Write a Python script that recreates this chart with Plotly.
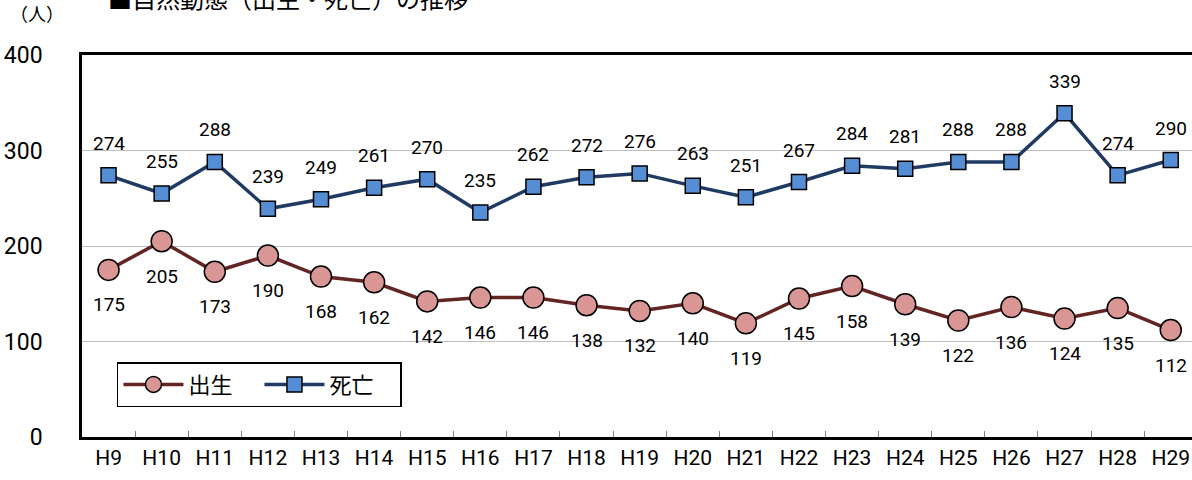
import plotly.graph_objects as go

categories = ["H9","H10","H11","H12","H13","H14","H15","H16","H17","H18","H19","H20",
              "H21","H22","H23","H24","H25","H26","H27","H28","H29"]
births = [175,205,173,190,168,162,142,146,146,138,132,140,119,145,158,139,122,136,124,135,112]
deaths = [274,255,288,239,249,261,270,235,262,272,276,263,251,267,284,281,288,288,339,274,290]
y_ticks = [0,100,200,300,400]

FONT = "Roboto, Liberation Sans, sans-serif"
JP = "Noto Sans CJK JP, sans-serif"

fig = go.Figure()
fig.add_trace(go.Scatter(
    x=categories, y=births, name="出生", mode="lines+markers",
    line=dict(color="#632523", width=3.5),
    marker=dict(symbol="circle", size=21, color="#D99694", line=dict(color="#000000", width=1.5)),
))
fig.add_trace(go.Scatter(
    x=categories, y=deaths, name="死亡", mode="lines+markers",
    line=dict(color="#1F3B63", width=3.5),
    marker=dict(symbol="square", size=15, color="#558ED5", line=dict(color="#000000", width=1.5)),
))

annotations = []
for c, v in zip(categories, births):
    annotations.append(dict(x=c, y=v, xref="x", yref="y", text=str(v), showarrow=False,
                            yshift=-35, font=dict(family=FONT, size=19, color="#000000")))
for c, v in zip(categories, deaths):
    annotations.append(dict(x=c, y=v, xref="x", yref="y", text=str(v), showarrow=False,
                            yshift=32, font=dict(family=FONT, size=19, color="#000000")))
annotations.append(dict(text="（人）", xref="paper", yref="paper", x=-0.067, y=1.07,
                        xanchor="left", yanchor="bottom", showarrow=False,
                        font=dict(family=JP, size=18, color="#000000")))
annotations.append(dict(text="■自然動態（出生・死亡）の推移", xref="paper", yref="paper",
                        x=0.022, y=1.15, xanchor="left", yanchor="middle", showarrow=False,
                        font=dict(family=JP, size=24, color="#000000")))

fig.update_layout(
    width=1192, height=480,
    margin=dict(l=82, r=0, t=55, b=43),
    paper_bgcolor="white", plot_bgcolor="white",
    showlegend=True,
    legend=dict(orientation="h", x=0.0315, y=0.196, xanchor="left", yanchor="top",
                bordercolor="#000000", borderwidth=1.5, bgcolor="white",
                font=dict(family=JP, size=22, color="#000000"),
                itemwidth=60, entrywidthmode="pixels", entrywidth=66),
    xaxis=dict(type="category", range=[-0.5, 20.4], showline=True, linecolor="#000000",
               linewidth=2.5, mirror=True, ticks="inside", tickson="boundaries",
               ticklen=6, tickcolor="#808080", tickwidth=1, showgrid=False,
               automargin=False, tickfont=dict(family=FONT, size=21, color="#000000")),
    yaxis=dict(range=[0, 400], tickvals=y_ticks, showline=True, linecolor="#000000",
               linewidth=2.5, showgrid=True, gridcolor="#BFBFBF", gridwidth=1,
               zeroline=False, ticks="", ticklabelstandoff=32, automargin=False,
               tickfont=dict(family=FONT, size=23, color="#000000")),
    annotations=annotations,
)

fig.write_html("out.html", config={"displayModeBar": False},
               post_script="document.body.style.margin='0';document.body.style.overflow='hidden';")
